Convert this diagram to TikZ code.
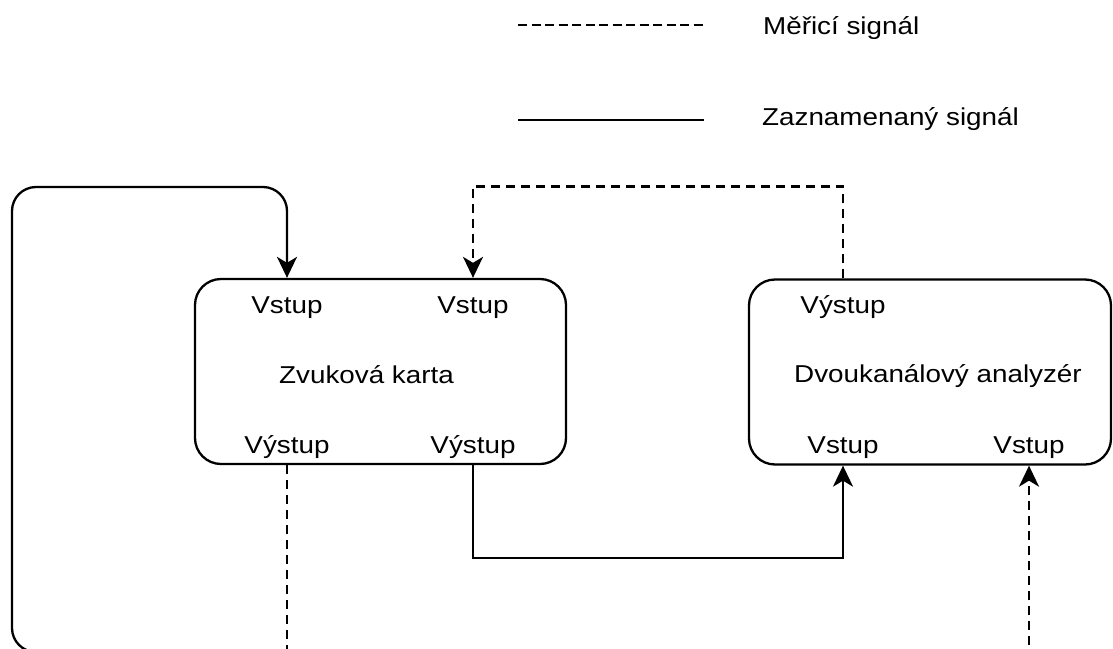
\documentclass[tikz,border=0pt]{standalone}
\usepackage{fontspec}
\setmainfont{Liberation Sans}[FakeStretch=1.14]
\usetikzlibrary{shapes, arrows, arrows.meta, positioning}

\begin{document}
\begin{tikzpicture}[x=1pt,y=-1pt,line width=2.3pt,
		>={Stealth[length=21pt,width=20pt,inset=6pt]},
		every node/.style={font=\fontsize{24.4}{30}\selectfont},
		box/.style={draw,rounded corners=26pt,minimum width=371pt,minimum height=185pt},
		lbl/.style={inner sep=0pt,text height=17.5pt,text depth=0pt},
		mereni/.style={dash pattern=on 9pt off 6pt},
		legmereni/.style={dash pattern=on 9pt off 4.5pt}]
			\useasboundingbox (0,0) rectangle (1113,648);
			\clip (0,0) rectangle (1113,648);
			% legenda
			\coordinate (m1) at (518,25);
			\coordinate (m2) at (704,25);
			\node[lbl,anchor=west] (mtxt) at (762,26) {Měřicí signál};
			\coordinate (z1) at (518,120);
			\coordinate (z2) at (704,120);
			\node[lbl,anchor=west] (ztxt) at (761,116.5) {Zaznamenaný signál};
			% bloky
			\node[box] (zk) at (380.5,371.5) {};
			\node[box,minimum width=362pt] (an) at (930,372) {};
			\node[lbl] (zkin1) at (287,304.7) {Vstup};
			\node[lbl] (zkin2) at (473,304.7) {Vstup};
			\node[lbl] (zkname) at (366.5,374.7) {Zvuková karta};
			\node[lbl] (zkout1) at (287,445) {Výstup};
			\node[lbl] (zkout2) at (473,445) {Výstup};
			\node[lbl] (anout) at (843,305) {Výstup};
			\node[lbl] (anname) at (938,373.5) {Dvoukanálový analyzér};
			\node[lbl] (anin1) at (843,445) {Vstup};
			\node[lbl] (anin2) at (1029,445) {Vstup};
			% volne konce
			\coordinate (smycka) at (300,652);
			\coordinate (zkdol) at (287,660);
			\coordinate (andol) at (1029,660);
			\draw[legmereni] (m1) -- (m2);
			\draw (z1) -- (z2);
			\draw[->,rounded corners=24pt] (smycka) -| (12,187) -| (zkin1 |- zk.north);
			\draw[mereni,->] (anout |- an.north) -- ++(0,-92) -| (zkin2 |- zk.north);
			\draw[->] (zkout2 |- zk.south) -- ++(0,93) -| (anin1 |- an.south);
			\draw[mereni] (zkout1 |- zk.south) -- (zkdol);
			\draw[mereni,->] (andol) -- (anin2 |- an.south);
		\end{tikzpicture}
\end{document}
